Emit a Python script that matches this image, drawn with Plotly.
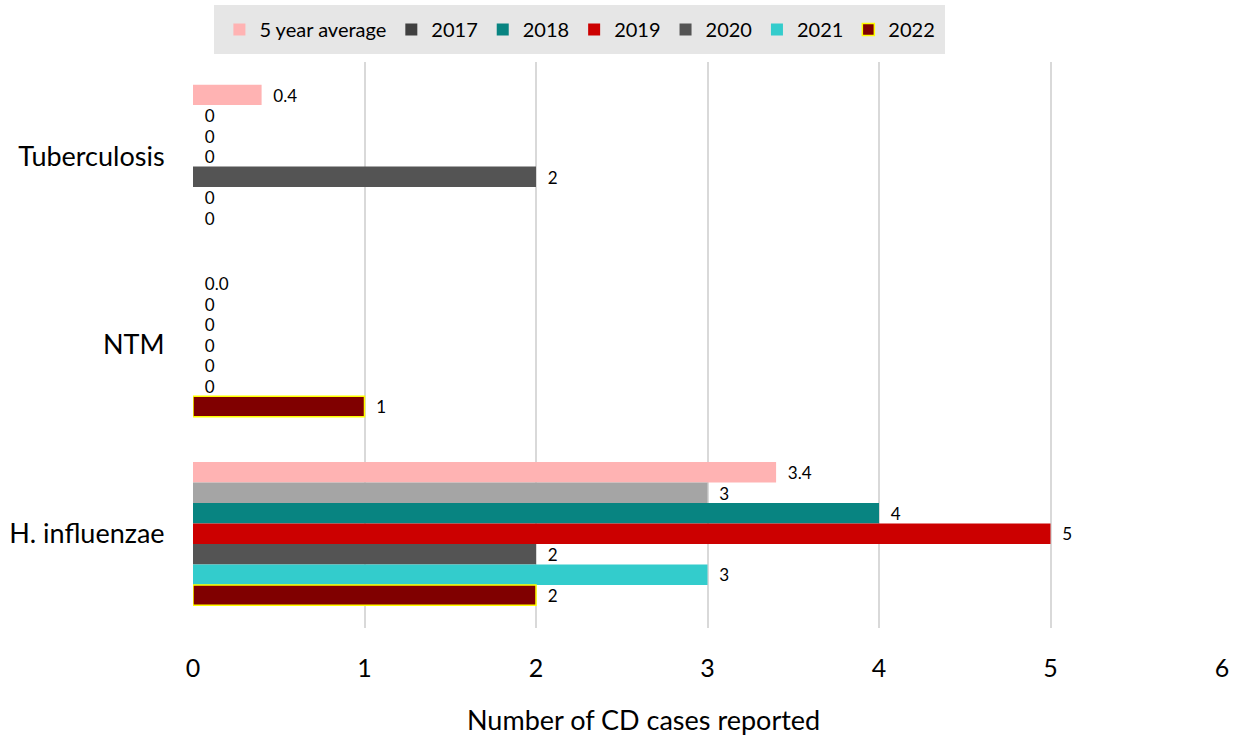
import plotly.graph_objects as go

categories = ["Tuberculosis", "NTM", "H. influenzae"]
series_names = ["5 year average", "2017", "2018", "2019", "2020", "2021", "2022"]
avg_5yr = [0.4, 0.0, 3.4]
y2017 = [0, 0, 3]
y2018 = [0, 0, 4]
y2019 = [0, 0, 5]
y2020 = [2, 0, 2]
y2021 = [0, 0, 3]
y2022 = [0, 1, 2]
avg_labels = ["0.4", "0.0", "3.4"]
x_ticks = [0, 1, 2, 3, 4, 5, 6]
x_title = "Number of CD cases reported"

series_values = [avg_5yr, y2017, y2018, y2019, y2020, y2021, y2022]
colors = {
    "5 year average": "#FFB3B3",
    "2017": ["#404040", "#404040", "#A5A5A5"],  # legend swatch dark, bar light grey
    "2018": "#088481",
    "2019": "#CC0000",
    "2020": "#545454",
    "2021": "#33CCCC",
    "2022": "#800000",
}

FONT = "Lato"
PAD = "\u00a0\u00a0"
fig = go.Figure()
for i, (name, vals) in enumerate(zip(series_names, series_values)):
    labels = avg_labels if i == 0 else [str(v) for v in vals]
    ys = list(categories)
    xs = list(vals)
    col = colors[name]
    line = dict(width=0)
    if name == "2022":
        # reverse order so the first point (legend swatch) has the yellow outline
        ys = ys[::-1]
        xs = xs[::-1]
        labels = labels[::-1]
        line = dict(color="#FFFF00", width=[1.5 if v > 0 else 0 for v in xs])
    fig.add_trace(go.Bar(
        y=ys, x=xs, name=name, orientation="h",
        marker=dict(color=col, line=line),
        text=[PAD + t for t in labels], textposition="outside", cliponaxis=False,
        textfont=dict(family=FONT, size=20, color="#000000"),
    ))

fig.add_annotation(
    text=x_title, xref="paper", yref="paper", x=0.438, y=-0.1625,
    xanchor="center", yanchor="middle", showarrow=False,
    font=dict(family=FONT, size=27, color="#000000"),
)

fig.update_layout(
    width=1238, height=738,
    barmode="group", bargap=0.24, bargroupgap=0,
    plot_bgcolor="white", paper_bgcolor="white",
    margin=dict(l=193, r=16, t=62, b=110, autoexpand=False),
    font=dict(family=FONT, color="#000000"),
    legend=dict(
        orientation="h", x=0.376, xanchor="center", y=1.1007, yanchor="top",
        bgcolor="#E6E6E6", bordercolor="#E6E6E6", borderwidth=5,
        font=dict(family=FONT, size=20),
        traceorder="normal",
    ),
    xaxis=dict(
        range=[0, 6], tickvals=x_ticks, showgrid=True, gridcolor="#D9D9D9",
        gridwidth=2, zeroline=False, showline=False,
        ticks="outside", ticklen=18, tickcolor="rgba(0,0,0,0)",
        tickfont=dict(family=FONT, size=25),
    ),
    yaxis=dict(
        autorange="reversed", showgrid=False, zeroline=False, showline=False,
        categoryorder="array", categoryarray=categories,
        ticks="outside", ticklen=22, tickcolor="rgba(0,0,0,0)",
        tickfont=dict(family=FONT, size=27),
    ),
)

fig.write_html(
    "out.html",
    config={"displayModeBar": False},
    post_script="document.body.style.margin='0';",
)
